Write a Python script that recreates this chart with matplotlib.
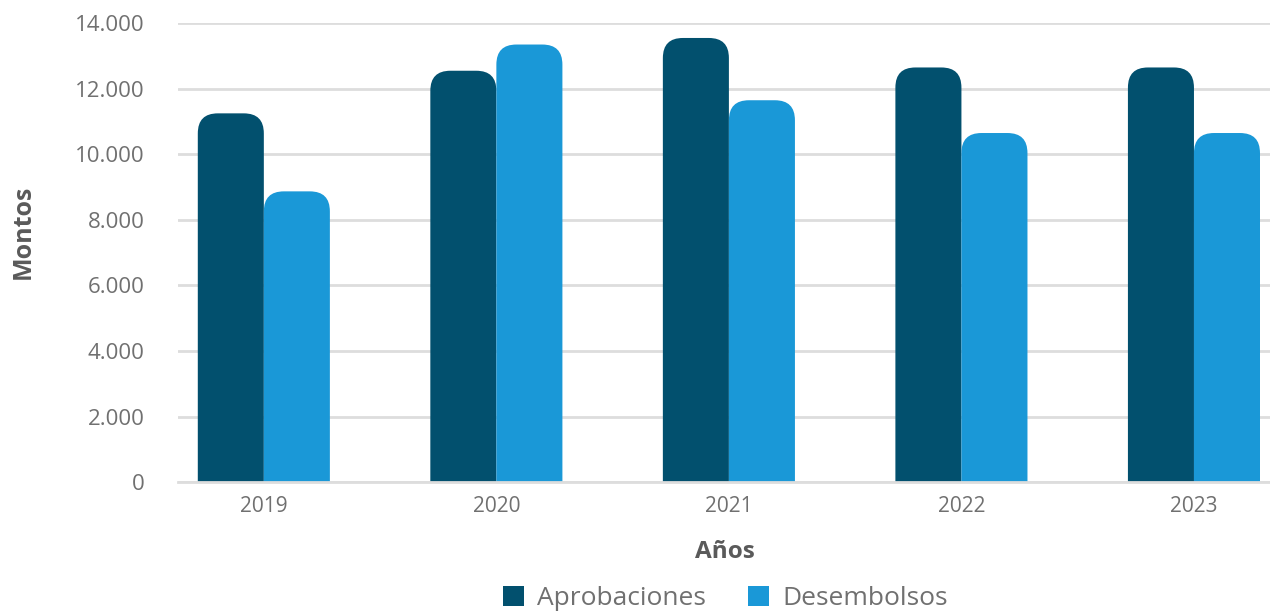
import matplotlib
matplotlib.use("Agg")
import matplotlib.pyplot as plt
from matplotlib.patches import FancyBboxPatch, Patch
from matplotlib.ticker import FuncFormatter
import numpy as np

# datos
anios = ["2019", "2020", "2021", "2022", "2023"]
aprobaciones = [11250, 12550, 13550, 12650, 12650]
desembolsos = [8870, 13350, 11650, 10650, 10650]

c_apro = "#02506E"
c_des = "#1A98D7"
gris = "#707070"

plt.rcParams["font.family"] = ["Open Sans", "DejaVu Sans"]

fig = plt.figure(figsize=(12.7, 6.11), dpi=100)
ax = fig.add_axes([0.140, 0.211, 0.860, 0.751])

x = np.arange(len(anios))
w = 0.284
ax.set_xlim(-0.37, 4.327)
ax.set_ylim(0, 14000)

# escala data -> pixeles para redondear las esquinas
fig.canvas.draw()
p0 = ax.transData.transform((0, 0))
p1 = ax.transData.transform((1, 1000))
px_x = p1[0] - p0[0]
px_y = (p1[1] - p0[1]) / 1000
aspect = px_x / px_y
radio = 20 / px_x

def barra_redonda(xc, h, color):
    # se extiende por debajo de 0 y se recorta con los ejes
    base = -radio * aspect * 2
    p = FancyBboxPatch((xc - w / 2, base), w, h - base,
                       boxstyle="round,pad=0,rounding_size=%f" % radio,
                       mutation_aspect=aspect, facecolor=color,
                       edgecolor="none", zorder=3)
    ax.add_patch(p)

for i in range(len(anios)):
    barra_redonda(x[i] - w / 2, aprobaciones[i], c_apro)
    barra_redonda(x[i] + w / 2, desembolsos[i], c_des)

ax.set_yticks(np.arange(0, 14001, 2000))
ax.yaxis.set_major_formatter(FuncFormatter(lambda v, p: "{:,.0f}".format(v).replace(",", ".")))
ax.set_xticks(x)
ax.set_xticklabels(anios)

ax.grid(axis="y", color="#DDDDDD", linewidth=2, zorder=0)
ax.set_axisbelow(True)
for s in ["top", "right", "left"]:
    ax.spines[s].set_visible(False)
ax.spines["bottom"].set_color("#DDDDDD")
ax.spines["bottom"].set_linewidth(2)
ax.spines["bottom"].set_zorder(4)

ax.tick_params(axis="y", length=0, pad=24, labelsize=16, labelcolor=gris)
ax.tick_params(axis="x", length=0, pad=10, labelsize=15, labelcolor=gris)

fig.text(0.018, 0.62, "Montos", rotation=90, ha="center", va="center",
         fontsize=18, fontweight="bold", color="#5A5A5A")
fig.text(0.571, 0.097, "Años", ha="center", va="center",
         fontsize=17.5, fontweight="bold", color="#5A5A5A")

handles = [Patch(facecolor=c_apro, label="Aprobaciones"),
           Patch(facecolor=c_des, label="Desembolsos")]
leg = fig.legend(handles=handles, loc="center", bbox_to_anchor=(0.571, 0.02),
                 ncol=2, frameon=False, fontsize=19, handlelength=0.8,
                 handleheight=0.8, handletextpad=0.5, columnspacing=1.6)
for t in leg.get_texts():
    t.set_color(gris)

fig.savefig("out.png", dpi=100)
